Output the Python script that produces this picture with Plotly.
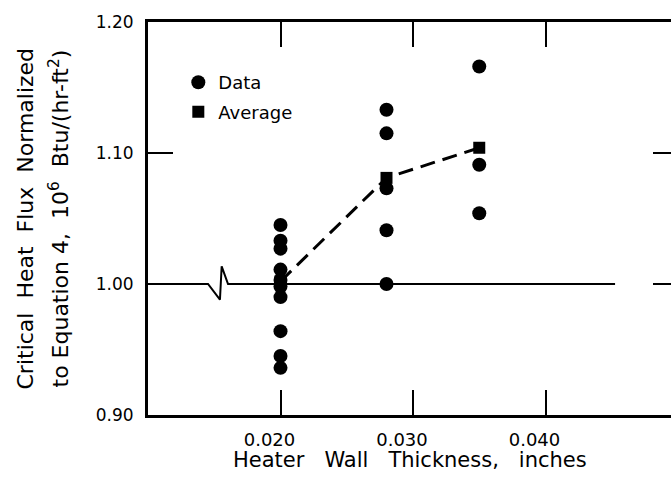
import plotly.graph_objects as go

# Data
data_x = [0.020] * 10 + [0.028] * 5 + [0.035] * 3
data_y = [1.045, 1.033, 1.027, 1.011, 1.003, 0.998, 0.990, 0.964, 0.945, 0.936,
          1.133, 1.115, 1.073, 1.041, 1.000,
          1.166, 1.091, 1.054]
avg_x = [0.020, 0.028, 0.035]
avg_y = [1.002, 1.081, 1.104]
# reference line at 1.00 with axis-break symbol
ref_x = [0.0100, 0.01453, 0.01543, 0.01556, 0.01604, 0.04525]
ref_y = [1.000, 1.000, 0.988, 1.0135, 1.000, 1.000]

x_ticks = [0.020, 0.030, 0.040]
x_ticklabels = ["0.020", "0.030", "0.040"]
y_ticks = [0.90, 1.00, 1.10, 1.20]
y_ticklabels = ["0.90", "1.00", "1.10", "1.20"]

FONT = "DejaVu Sans"
NB = "\u00a0"

fig = go.Figure()
fig.add_trace(go.Scatter(x=ref_x, y=ref_y, mode="lines",
                         line=dict(color="black", width=2), showlegend=False,
                         hoverinfo="skip"))
fig.add_trace(go.Scatter(x=avg_x, y=avg_y, mode="lines",
                         line=dict(color="black", width=3, dash="15px,8px"),
                         showlegend=False, hoverinfo="skip"))
fig.add_trace(go.Scatter(x=data_x, y=data_y, mode="markers", name="Data",
                         legendgroup="a",
                         marker=dict(symbol="circle", size=14, color="black")))
fig.add_trace(go.Scatter(x=avg_x, y=avg_y, mode="markers", name="Average",
                         legendgroup="b",
                         marker=dict(symbol="square", size=12, color="black")))

# the original frame runs slightly past the right edge of the picture
fig.update_layout(
    width=678, height=487, autosize=False,
    margin=dict(l=148, r=0, t=22, b=72),
    paper_bgcolor="white", plot_bgcolor="white",
    font=dict(family=FONT, color="black", size=17),
    legend=dict(x=0.0572, y=0.893, xanchor="left", yanchor="top",
                bgcolor="rgba(0,0,0,0)", font=dict(size=18, family=FONT),
                tracegroupgap=3, itemwidth=30),
    showlegend=True,
)
fig.update_xaxes(range=[0.010, 0.050], tickvals=x_ticks,
                 ticktext=x_ticklabels, ticks="inside", ticklen=25, tickwidth=2,
                 tickcolor="black", showline=True, linewidth=3, linecolor="black",
                 mirror="ticks", showgrid=False, zeroline=False, automargin=False,
                 tickfont=dict(size=18, family=FONT), ticklabelshift=-11,
                 ticklabelstandoff=6)
fig.update_yaxes(range=[0.90, 1.20], tickvals=y_ticks, ticktext=y_ticklabels,
                 ticks="inside", ticklen=25, tickwidth=2, tickcolor="black",
                 showline=True, linewidth=3, linecolor="black", mirror="ticks",
                 showgrid=False, zeroline=False, automargin=False,
                 tickfont=dict(size=17, family=FONT), ticklabelstandoff=8)

fig.add_annotation(text=f"Heater{NB*3}Wall{NB*3}Thickness,{NB*3}inches",
                   xref="paper", yref="paper", x=0.495, y=0, yshift=-45,
                   xanchor="center", yanchor="middle", showarrow=False,
                   font=dict(size=21, family=FONT))
fig.add_annotation(text=f"Critical{NB*2}Heat{NB*2}Flux{NB*2}Normalized",
                   xref="paper", yref="paper", x=0, y=0.5, xshift=-123,
                   xanchor="center", yanchor="middle", textangle=-90,
                   showarrow=False, font=dict(size=22, family=FONT))
fig.add_annotation(text=f"to{NB}Equation{NB}4,{NB*2}10<sup>6</sup>{NB*2}Btu/(hr-ft<sup>2</sup>)",
                   xref="paper", yref="paper", x=0, y=0.5, xshift=-90,
                   xanchor="center", yanchor="middle", textangle=-90,
                   showarrow=False, font=dict(size=22, family=FONT))

fig.write_html("out.html", config={"responsive": False, "displayModeBar": False},
               post_script="document.body.style.margin='0';"
                           "document.body.style.overflow='hidden';")
